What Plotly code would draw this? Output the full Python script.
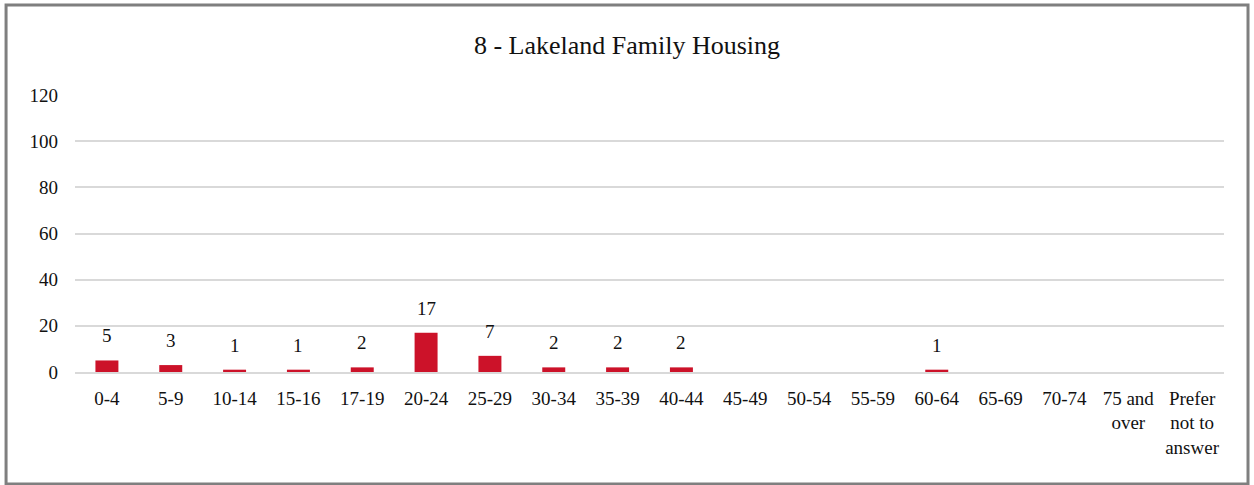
import plotly.graph_objects as go

age_groups = ["0-4", "5-9", "10-14", "15-16", "17-19", "20-24", "25-29", "30-34",
              "35-39", "40-44", "45-49", "50-54", "55-59", "60-64", "65-69", "70-74",
              "75 and<br>over", "Prefer<br>not to<br>answer"]
counts = [5, 3, 1, 1, 2, 17, 7, 2, 2, 2, 0, 0, 0, 1, 0, 0, 0, 0]
y_ticks = [0, 20, 40, 60, 80, 100, 120]

font_family = "Liberation Serif, Times New Roman, serif"

fig = go.Figure()
fig.add_trace(go.Bar(x=age_groups, y=counts, marker_color="#cc1229",
                     marker_line_width=0, hoverinfo="x+y"))

# labels only for bars with a value
for cat, val in zip(age_groups, counts):
    if val > 0:
        fig.add_annotation(x=cat, y=val, text=str(val), showarrow=False,
                           yanchor="bottom", yshift=12,
                           font=dict(family=font_family, size=19, color="#111"))

# outer chart border
fig.add_shape(type="rect", xref="paper", yref="paper",
              x0=-0.0600, x1=1.0209, y0=-0.404, y1=1.325,
              line=dict(color="#7f7f7f", width=3), layer="below")

fig.update_layout(
    width=1254, height=485,
    margin=dict(l=75, r=30, t=95, b=113),
    paper_bgcolor="white", plot_bgcolor="white",
    font=dict(family=font_family, size=19, color="#111"),
    title=dict(text="8 - Lakeland Family Housing", x=0.5, xanchor="center",
               y=0.907, yanchor="middle", font=dict(family=font_family, size=26, color="#111")),
    bargap=0.64,
    showlegend=False,
)
fig.update_xaxes(showgrid=False, showline=True, linecolor="#d9d9d9", linewidth=1.5,
                 ticks="", tickangle=0, ticklabelstandoff=8,
                 tickfont=dict(family=font_family, size=19))
fig.update_yaxes(range=[0, 120], tickvals=y_ticks, showgrid=True, gridcolor="#d9d9d9",
                 gridwidth=1.5, zeroline=False, showline=False, ticks="",
                 ticklabelstandoff=16, tickfont=dict(family=font_family, size=19))

fig.write_html("out.html", config={"displayModeBar": False},
               post_script="document.body.style.margin='0px';")
